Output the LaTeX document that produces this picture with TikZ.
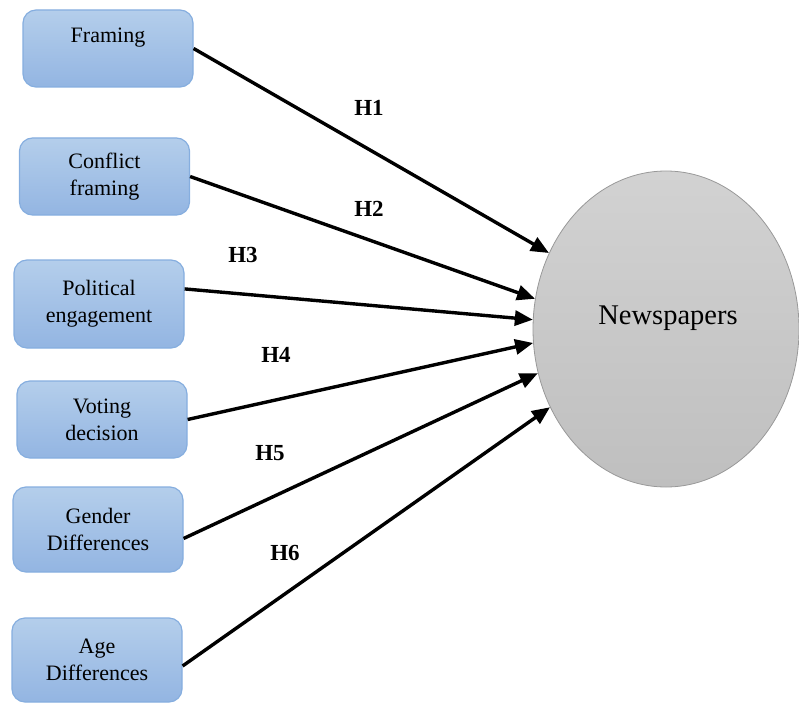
\documentclass[tikz,border=0pt]{standalone}
\usepackage{fontspec}
\setmainfont{Liberation Serif}
\usetikzlibrary{arrows.meta, shapes.geometric}
\definecolor{boxtop}{HTML}{B4CEEB}
\definecolor{boxbot}{HTML}{93B5E2}
\definecolor{boxline}{HTML}{86AEDF}
\definecolor{ovaltop}{HTML}{D2D2D2}
\definecolor{ovalbot}{HTML}{BFBFBF}
\begin{document}
\begin{tikzpicture}[x=1pt, y=-1pt,
    main/.style = {draw=boxline, line width=1.2pt, rounded corners=13pt, top color=boxtop, bottom color=boxbot, minimum width=170pt, align=center, inner sep=0pt, font=\fontsize{22}{27}\selectfont},
    ovalnode/.style = {ellipse, draw=ovalbot!80!black, line width=0.8pt, top color=ovaltop, bottom color=ovalbot, minimum width=266pt, minimum height=316pt, inner sep=0pt},
    hyp/.style = {font=\fontsize{23}{27}\selectfont\bfseries},
    link/.style = {-{Triangle[length=18pt, width=15pt]}, line width=3.4pt}]
    \useasboundingbox (0,0) rectangle (799,703);
    \node[main, minimum height=77pt] (1) at (108,48.5) {Framing\\~};
    \node[main, minimum height=77pt] (2) at (104.5,176.5) {Conflict\\framing};
    \node[main, minimum height=88pt] (3) at (99,304) {Political\\engagement};
    \node[main, minimum height=77pt] (4) at (102,419.5) {Voting\\decision};
    \node[main, minimum height=85pt] (5) at (98,529.5) {Gender\\Differences};
    \node[main, minimum height=84pt] (6) at (97,660) {Age\\Differences};
    \node[ovalnode] (7) at (666,329) {};
    \node[font=\fontsize{28.5}{30}\selectfont] at (668,318) {Newspapers};
    \draw[link] (1.east) -- (7.147.5);
    \draw[link] (2.east) -- (7.167.9);
    \draw[link] (3.10) -- (7.176.2);
    \draw[link] (4.east) -- (7.186.7);
    \draw[link] (5.-6) -- (7.199.6);
    \draw[link] (6.-4) -- (7.214.6);
    \node[hyp] (h1) at (369,108) {H1};
    \node[hyp] (h2) at (369,209) {H2};
    \node[hyp] (h3) at (243,255) {H3};
    \node[hyp] (h4) at (276,355) {H4};
    \node[hyp] (h5) at (270,453) {H5};
    \node[hyp] (h6) at (285,553) {H6};
\end{tikzpicture}
\end{document}
